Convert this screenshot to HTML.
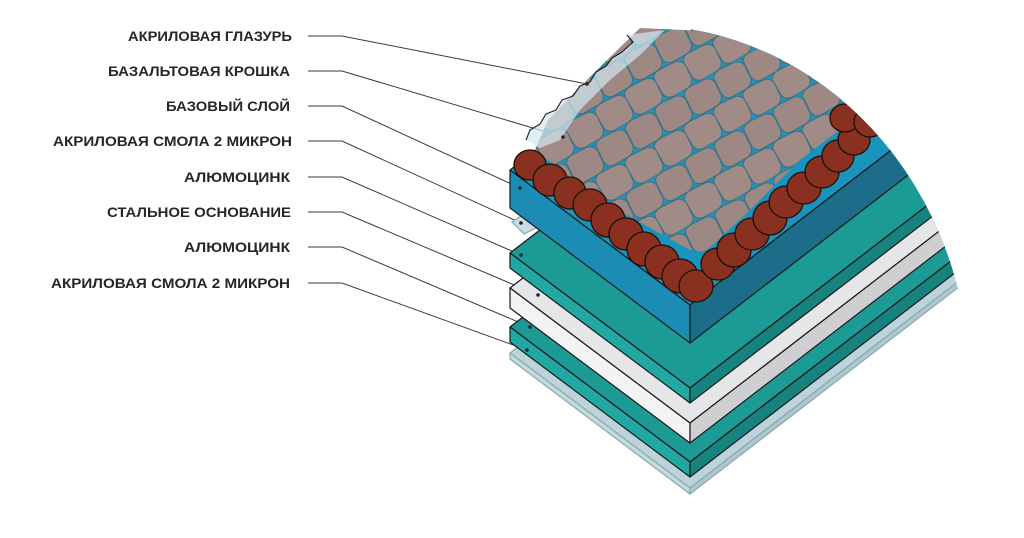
<!DOCTYPE html>
<html><head><meta charset="utf-8"><style>
html,body{margin:0;padding:0;background:#fff;}
svg{display:block;}
text{font-family:"Liberation Sans",sans-serif;font-weight:bold;font-size:13.5px;fill:#262626;}
</style></head><body>
<svg width="1024" height="538" viewBox="0 0 1024 538" xmlns="http://www.w3.org/2000/svg">
<defs>
<clipPath id="arc"><ellipse cx="640" cy="385" rx="330" ry="360"/></clipPath>
<pattern id="stones" width="34" height="60" patternUnits="userSpaceOnUse" patternTransform="rotate(-30)">
<rect width="34" height="60" fill="#2a8fb0"/>
<path d="M1 5 Q3 0 11 0 L26 1 Q34 3 34 10 L33 23 Q31 30 23 30 L8 30 Q0 29 0 21Z" fill="#9e8884" stroke="#2f6f86" stroke-width="0.9"/>
<path d="M-17 35 Q-15 30 -7 30 L9 31 Q17 33 17 40 L16 53 Q14 60 6 60 L-9 60 Q-17 59 -17 51Z" fill="#a18b87" stroke="#2f6f86" stroke-width="0.9"/>
<path d="M17 35 Q19 30 27 30 L43 31 Q51 33 51 40 L50 53 Q48 60 40 60 L25 60 Q17 59 17 51Z" fill="#a18b87" stroke="#2f6f86" stroke-width="0.9"/>
</pattern>
</defs>

<g stroke="#3a3a3a" stroke-width="1" fill="none">
<polyline points="308,36 342,36 587,84"/>
<polyline points="308,71 342,71 563,137"/>
<polyline points="308,106 342,106 520,188"/>
<polyline points="308,141 342,141 521,223"/>
<polyline points="308,177 342,177 521,255"/>
<polyline points="308,212 342,212 538,295"/>
<polyline points="308,247 342,247 530,327"/>
<polyline points="308,283 342,283 527,350"/>
</g>

<g clip-path="url(#arc)" stroke="#1a1a1a" stroke-width="1.2" stroke-linejoin="round">
<polygon points="510,353 690,488 1090,180 910,45" fill="#bcd3db" stroke="#8aa"/>
<polygon points="510,353 690,488 690,494 510,359" fill="#c5d9e0" stroke="#8aa"/>
<polygon points="690,488 1090,180 1090,186 690,494" fill="#aec6cf" stroke="#8aa"/>
<polygon points="510,327 690,462 1090,154 910,19" fill="#1c9a95"/>
<polygon points="510,327 690,462 690,477 510,342" fill="#22a8a2"/>
<polygon points="690,462 1090,154 1090,169 690,477" fill="#17837f"/>
<polygon points="510,288 690,423 1090,115 910,-20" fill="#e6e6e8"/>
<polygon points="510,288 690,423 690,443 510,308" fill="#f3f3f4"/>
<polygon points="690,423 1090,115 1090,135 690,443" fill="#cfcfd2"/>
<polygon points="510,253 690,388 1090,80 910,-55" fill="#1c9a95"/>
<polygon points="510,253 690,388 690,403 510,268" fill="#22a8a2"/>
<polygon points="690,388 1090,80 1090,95 690,403" fill="#17837f"/>
<polygon points="512,222 524,214 540,226 524,234" fill="#c8dde5" stroke="#8aa"/>
<polygon points="510,170 690,305 1090,-3 910,-138" fill="#1a93bd"/>
<polygon points="510,170 690,305 690,343 510,208" fill="#1b8cb4"/>
<polygon points="690,305 1090,-3 1090,35 690,343" fill="#1b6d8a"/>
<polygon points="535,150 548,120 575,92 605,62 640,28 900,40 885,95 800,160 750,210 705,252 690,250 600,200" fill="url(#stones)" stroke="none"/>
<g fill="#8a3020" stroke="#1e0f0a" stroke-width="1.3">
<ellipse cx="530" cy="165" rx="16" ry="15"/>
<ellipse cx="550" cy="180" rx="17" ry="16"/>
<ellipse cx="570" cy="193" rx="16" ry="16"/>
<ellipse cx="590" cy="205" rx="17" ry="16"/>
<ellipse cx="608" cy="220" rx="17" ry="17"/>
<ellipse cx="626" cy="234" rx="17" ry="16"/>
<ellipse cx="644" cy="249" rx="17" ry="17"/>
<ellipse cx="662" cy="262" rx="17" ry="17"/>
<ellipse cx="680" cy="276" rx="18" ry="17"/>
<ellipse cx="696" cy="286" rx="17" ry="16"/>
<ellipse cx="718" cy="264" rx="17" ry="16"/>
<ellipse cx="734" cy="250" rx="17" ry="17"/>
<ellipse cx="752" cy="234" rx="17" ry="16"/>
<ellipse cx="770" cy="218" rx="17" ry="17"/>
<ellipse cx="786" cy="202" rx="17" ry="16"/>
<ellipse cx="804" cy="188" rx="17" ry="16"/>
<ellipse cx="822" cy="172" rx="17" ry="16"/>
<ellipse cx="838" cy="156" rx="16" ry="16"/>
<ellipse cx="854" cy="140" rx="16" ry="15"/>
<ellipse cx="845" cy="118" rx="15" ry="14"/>
<ellipse cx="870" cy="122" rx="16" ry="15"/>
<ellipse cx="886" cy="106" rx="16" ry="15"/>
<ellipse cx="866" cy="95" rx="15" ry="14"/>
</g>
<path d="M627,35 L633,42 L622,52 L612,58 L606,66 L596,72 L590,82 L580,86 L573,96 L562,100 L556,110 L546,114 L540,124 L530,130 L526,140 L540,148 L560,140 L580,110 L610,80 L640,55 L665,30 Z" fill="#d2e8f0" fill-opacity="0.7" stroke="none"/>
<path d="M627,35 L633,42 L622,52 L612,58 L606,66 L596,72 L590,82 L580,86 L573,96 L562,100 L556,110 L546,114 L540,124 L530,130 L526,140" fill="none" stroke="#1a1a1a" stroke-width="1.1"/>
</g>

<g fill="#222">
<circle cx="587" cy="84" r="1.8"/><circle cx="563" cy="137" r="1.8"/><circle cx="520" cy="188" r="1.8"/><circle cx="521" cy="223" r="1.8"/><circle cx="521" cy="255" r="1.8"/><circle cx="538" cy="295" r="1.8"/><circle cx="530" cy="327" r="1.8"/><circle cx="527" cy="350" r="1.8"/>
</g>

<text x="292" y="41" text-anchor="end" textLength="164" lengthAdjust="spacingAndGlyphs">АКРИЛОВАЯ ГЛАЗУРЬ</text>
<text x="290" y="76" text-anchor="end" textLength="182" lengthAdjust="spacingAndGlyphs">БАЗАЛЬТОВАЯ КРОШКА</text>
<text x="290" y="111" text-anchor="end" textLength="124" lengthAdjust="spacingAndGlyphs">БАЗОВЫЙ СЛОЙ</text>
<text x="292" y="146" text-anchor="end" textLength="239" lengthAdjust="spacingAndGlyphs">АКРИЛОВАЯ СМОЛА 2 МИКРОН</text>
<text x="290" y="182" text-anchor="end" textLength="106" lengthAdjust="spacingAndGlyphs">АЛЮМОЦИНК</text>
<text x="291" y="217" text-anchor="end" textLength="184" lengthAdjust="spacingAndGlyphs">СТАЛЬНОЕ ОСНОВАНИЕ</text>
<text x="290" y="252" text-anchor="end" textLength="106" lengthAdjust="spacingAndGlyphs">АЛЮМОЦИНК</text>
<text x="290" y="288" text-anchor="end" textLength="239" lengthAdjust="spacingAndGlyphs">АКРИЛОВАЯ СМОЛА 2 МИКРОН</text>
</svg>
</body></html>
